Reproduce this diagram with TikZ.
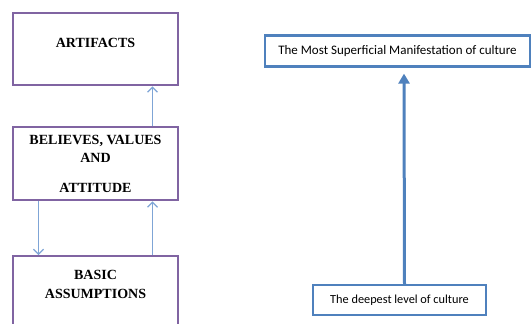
\documentclass[tikz,border=0pt]{standalone}
\usepackage{fontspec}
\setmainfont{Liberation Serif}
\newfontfamily\calibrisub{Carlito}
\usepackage{tikz}
\usetikzlibrary{arrows.meta, positioning, calc}

\definecolor{levelpurple}{HTML}{8064A2}
\definecolor{linkblue}{HTML}{7FA5D6}
\definecolor{boxblue}{HTML}{4F81BD}

\tikzset{
  levelbox/.style={draw=levelpurple, line width=2.4pt, fill=white, minimum width=165pt, inner sep=0pt},
  leveltext/.style={font=\fontsize{14}{16}\selectfont\bfseries},
  notebox/.style={draw=boxblue, line width=2.2pt, fill=white, inner sep=0pt,
    font=\calibrisub\fontsize{13}{15}\selectfont},
  thinlink/.style={linkblue, line width=1.2pt, -{Straight Barb[length=5pt, width=10pt]}},
  thicklink/.style={boxblue, line width=3pt, -{Triangle[length=10pt, width=11pt]}}
}

\begin{document}
\begin{tikzpicture}[x=1pt, y=-1pt]
  \clip (0,0) rectangle (531,324);
  \useasboundingbox (0,0) rectangle (531,324);

  % left column: the three levels
  \node[levelbox, minimum height=72pt, anchor=north] (artifacts) at (95.5,12) {};
  \node[leveltext] at (95.5,43) {ARTIFACTS};

  \node[levelbox, minimum height=73pt, anchor=north] (values) at (95.5,126) {};
  \node[leveltext] at (95.5,141) {BELIEVES, VALUES};
  \node[leveltext] at (95.5,158) {AND};
  \node[leveltext] at (95.5,188) {ATTITUDE};

  \node[levelbox, minimum height=100pt, anchor=north] (assumptions) at (95.5,255) {};
  \node[leveltext] at (95.5,275) {BASIC};
  \node[leveltext] at (95.5,294) {ASSUMPTIONS};

  \draw[thinlink] ([xshift=57pt]values.north) -- ([xshift=57pt]artifacts.south);
  \draw[thinlink] ([xshift=57pt]assumptions.north) -- ([xshift=57pt]values.south);
  \draw[thinlink] ([xshift=-57pt]values.south) -- ([xshift=-57pt]assumptions.north);

  % right column
  \node[notebox, minimum width=265pt, minimum height=31pt] (surface) at (397.5,51)
    {The Most Superficial Manifestation of culture};
  \node[notebox, minimum width=173pt, minimum height=30pt, font=\calibrisub\fontsize{12.3}{14}\selectfont]
    (deepest) at (399.5,300) {The deepest level of culture};

  \draw[thicklink] ([xshift=5pt]deepest.north) -- ([xshift=6.5pt,yshift=-6pt]surface.south);
\end{tikzpicture}
\end{document}
